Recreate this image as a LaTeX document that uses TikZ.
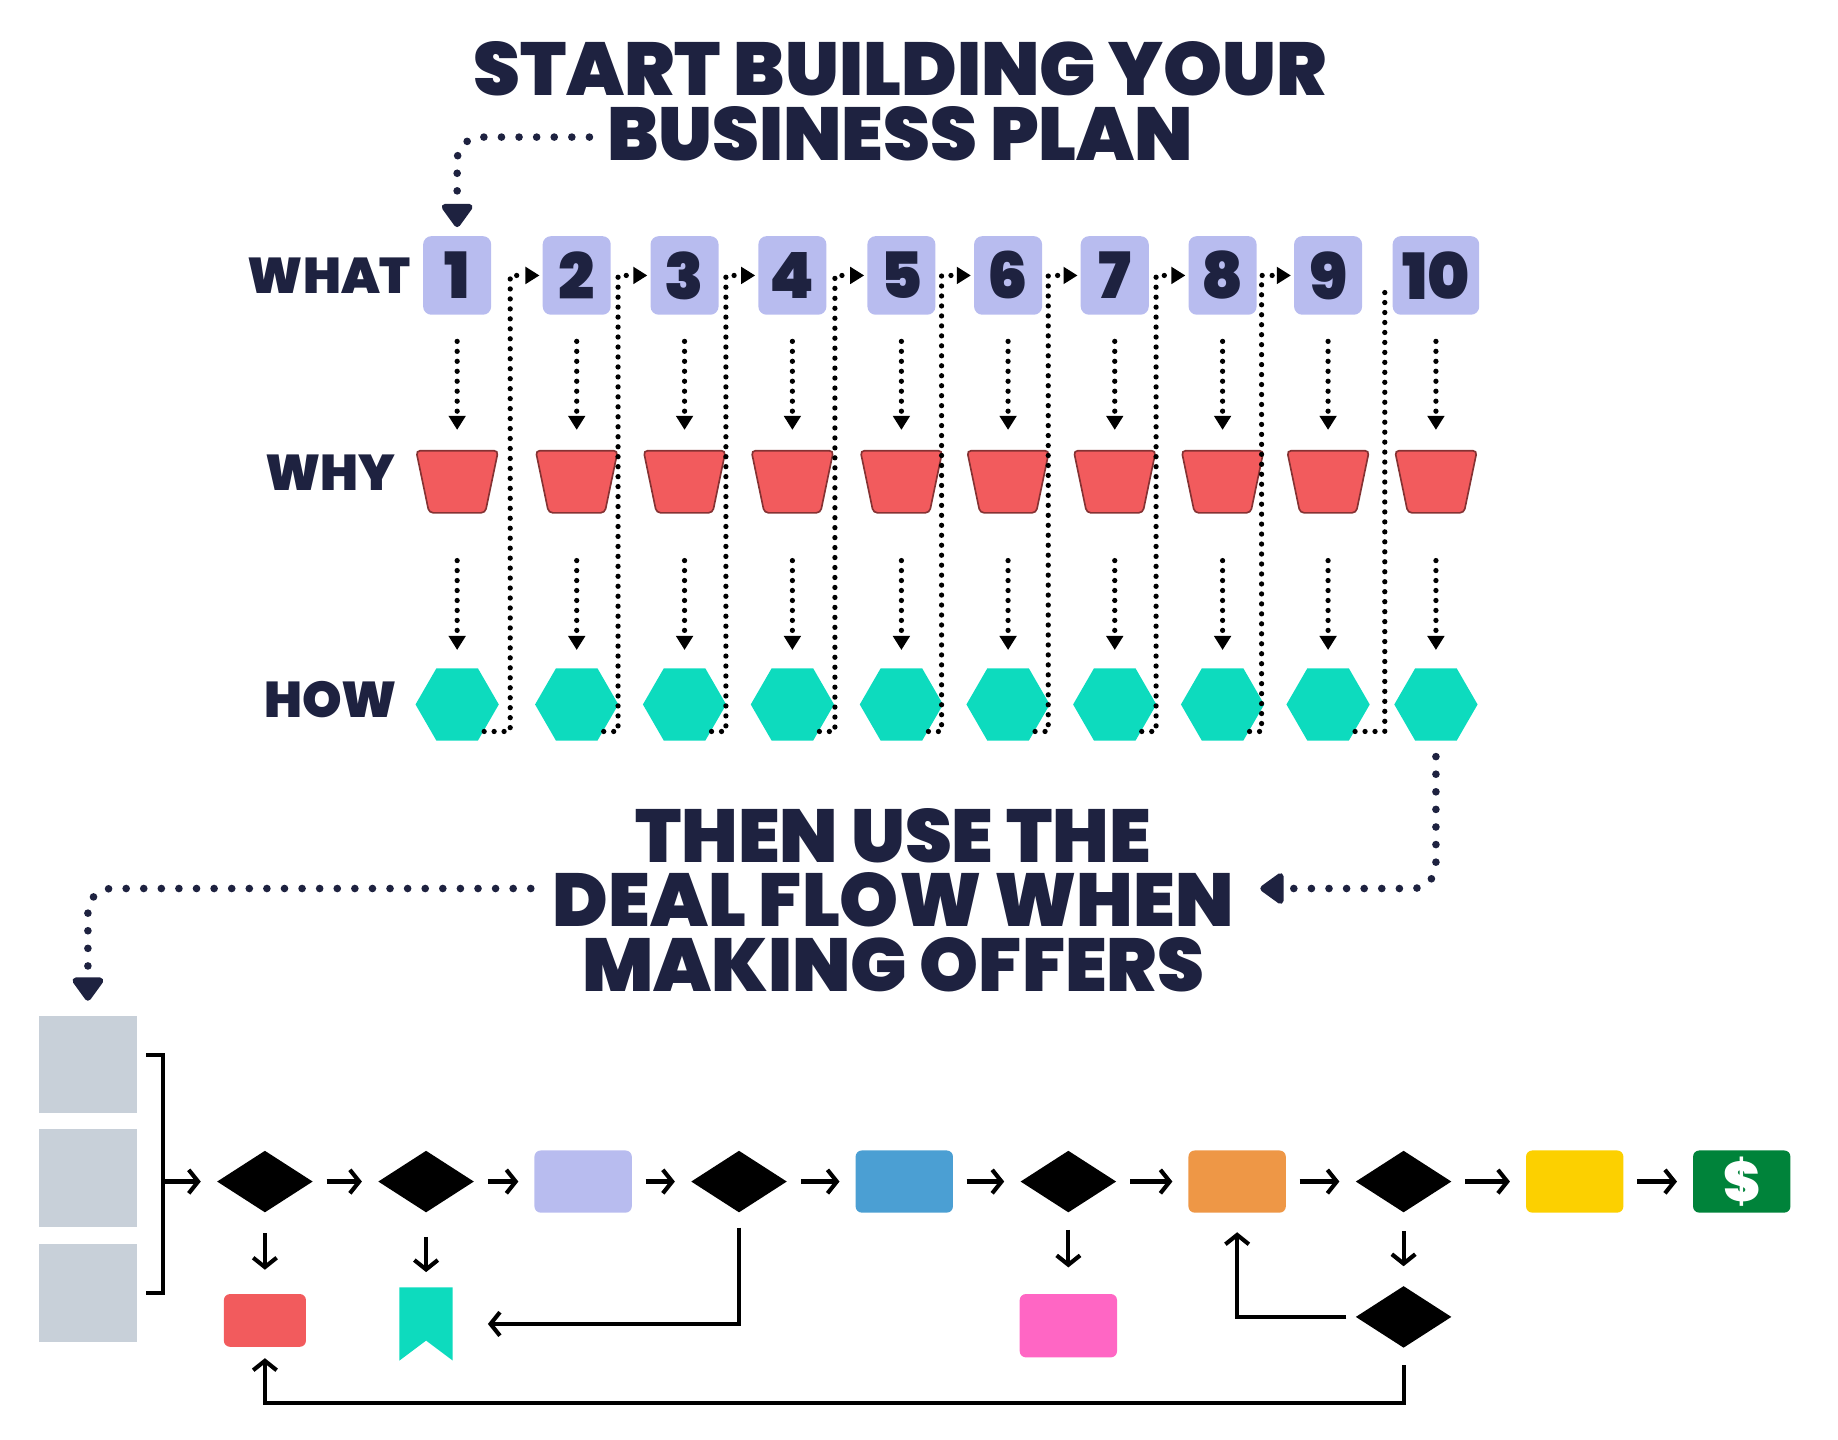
\documentclass[tikz,border=0pt]{standalone}
\usepackage{fontspec}
\newfontfamily\headfont{Poppins Black}
\usepackage{xcolor}
\usepackage{tikz}
\usetikzlibrary{arrows.meta, positioning, shapes.geometric, calc}
\definecolor{navy}{HTML}{1E2240}
\definecolor{lavender}{HTML}{B8BCEF}
\definecolor{coral}{HTML}{F25B5D}
\definecolor{mint}{HTML}{0DDBBE}
\definecolor{slate}{HTML}{C8D0D9}
\definecolor{skyblue}{HTML}{4B9FD3}
\definecolor{tangerine}{HTML}{EE9746}
\definecolor{sunny}{HTML}{FCD000}
\definecolor{money}{HTML}{00833A}
\definecolor{pinky}{HTML}{FF66C4}
\newcommand{\titlefont}{\headfont\fontsize{18.2}{15.65}\selectfont}
\newcommand{\labelfont}{\headfont\fontsize{12.2}{12.2}\selectfont}
\newcommand{\numfont}{\headfont\fontsize{15.5}{15.5}\selectfont}

\begin{document}
\begin{tikzpicture}[
  x=0.01cm, y=-0.01cm,
  headline/.style={font=\titlefont, text=navy, inner sep=0pt, align=center, anchor=north},
  rowlabel/.style={font=\labelfont, text=navy, inner sep=0pt},
  numbox/.style={fill=lavender, rounded corners=2pt, minimum width=0.58cm, minimum height=0.67cm,
                 inner sep=0.08cm, font=\numfont, text=navy},
  whybox/.style={trapezium, trapezium stretches=true, shape border rotate=180,
                 trapezium left angle=77, trapezium right angle=77, minimum width=0.70cm,
                 minimum height=0.53cm, fill=coral, draw=coral!55!black, line width=0.4pt, rounded corners=1pt},
  howbox/.style={regular polygon, regular polygon sides=6, minimum size=0.71cm, inner sep=0pt, fill=mint},
  dotline/.style={line width=0.045cm, line cap=round, dash pattern=on 0pt off 0.085cm},
  dotarrow/.style={dotline, -{Triangle[length=0.12cm, width=0.14cm]}},
  bigdot/.style={navy, line width=0.065cm, line cap=round, dash pattern=on 0pt off 0.15cm,
                 rounded corners=0.2cm, -{Triangle[length=0.22cm, width=0.3cm, round]}},
  graybox/.style={fill=slate, minimum width=0.84cm, minimum height=0.83cm, inner sep=0pt},
  flowbox/.style={rounded corners=1.5pt, minimum width=0.83cm, minimum height=0.53cm, inner sep=0pt},
  choice/.style={diamond, fill=black, minimum width=0.82cm, minimum height=0.53cm, inner sep=0pt},
  flowarrow/.style={line width=1pt, -{Straight Barb[length=0.08cm, width=0.2cm]},
                    shorten <=0.11cm, shorten >=0.13cm}
]
\useasboundingbox (0,0) rectangle (1568,1228);

% Titles
\node[headline] (t1) at (768,35) {START BUILDING YOUR\\BUSINESS PLAN};
\node[headline] (t2) at (762,689) {THEN USE THE\\DEAL FLOW WHEN\\MAKING OFFERS};
\coordinate (t1tail) at ($(t1.south)+(-2.65cm,0.21cm)$);

% Row labels
\node[rowlabel] (lwhat) at (281,235) {WHAT};
\node[rowlabel] (lwhy) at (282,403) {WHY};
\node[rowlabel] (lhow) at (282,597) {HOW};

% Columns: what -> why -> how
\foreach \i/\x in {1/390,2/492,3/584,4/676,5/769,6/860,7/951,8/1043,9/1133,10/1225} {
  \node[numbox] (box\i) at (\x,235) {\i};
  \node[whybox] (why\i) at (\x,411) {};
  \node[howbox] (how\i) at (\x,601) {};
  \draw[dotarrow, shorten <=0.22cm, shorten >=0.17cm] (box\i) -- (why\i);
  \draw[dotarrow, shorten <=0.40cm, shorten >=0.15cm] (why\i) -- (how\i);
}

% Column to column
\foreach \i [count=\j from 2] in {1,...,8}
  \draw[dotarrow, shorten >=0.02cm] (how\i.south east) -| ([xshift=-0.27cm]box\j.west) -- (box\j.west);
\draw[dotline] (how9.south east) -| ([xshift=-0.06cm, yshift=-0.1cm]box10.west);

% Deal flow
\node[graybox] (g1) at (75,908) {};
\node[graybox] (g2) at (75,1005) {};
\node[graybox] (g3) at (75,1103) {};
\coordinate (brk) at (139,1008);
\draw[line width=1pt] ([xshift=0.07cm, yshift=0.08cm]g1.east) -| (brk) |- ([xshift=0.07cm]g3.east);

\node[choice] (d1) at (226,1008) {};
\node[choice, right=0.54cm of d1] (d2) {};
\node[flowbox, fill=lavender, right=0.50cm of d2] (r1) {};
\node[choice, right=0.49cm of r1] (d3) {};
\node[flowbox, fill=skyblue, right=0.57cm of d3] (r2) {};
\node[choice, right=0.56cm of r2] (d4) {};
\node[flowbox, fill=tangerine, right=0.60cm of d4] (r3) {};
\node[choice, right=0.58cm of r3] (d5) {};
\node[flowbox, fill=sunny, right=0.62cm of d5] (r4) {};
\node[flowbox, fill=money, right=0.58cm of r4, text=white, font=\headfont\fontsize{13.5}{13.5}\selectfont] (cash) {\$};

\node[flowbox, fill=coral, minimum width=0.70cm, minimum height=0.45cm, below=0.68cm of d1] (r5) {};
\node[inner sep=0pt, minimum width=0.44cm, minimum height=0.61cm, below=0.63cm of d2] (bm) {};
\fill[mint] (bm.north west) -- (bm.north east) -- (bm.south east) -- ([yshift=0.17cm]bm.south) -- (bm.south west) -- cycle;
\node[flowbox, fill=pinky, minimum height=0.54cm, below=0.68cm of d4] (r6) {};
\node[choice, below=0.61cm of d5] (d6) {};
\coordinate (loop) at ([yshift=-0.46cm]d6.south);

% Flow arrows
\draw[flowarrow, shorten <=0pt] (brk) -- (d1);
\draw[flowarrow] (d1) -- (d2);
\draw[flowarrow] (d2) -- (r1);
\draw[flowarrow] (r1) -- (d3);
\draw[flowarrow] (d3) -- (r2);
\draw[flowarrow] (r2) -- (d4);
\draw[flowarrow] (d4) -- (r3);
\draw[flowarrow] (r3) -- (d5);
\draw[flowarrow] (d5) -- (r4);
\draw[flowarrow] (r4) -- (cash);
\draw[flowarrow, shorten <=0.17cm, shorten >=0.2cm] (d1) -- (r5);
\draw[flowarrow, shorten <=0.2cm, shorten >=0.13cm] (d2) -- (bm);
\draw[flowarrow, shorten <=0.14cm, shorten >=0.22cm] (d4) -- (r6);
\draw[flowarrow, shorten <=0.15cm, shorten >=0.16cm] (d5) -- (d6);
\draw[flowarrow, shorten <=0.12cm, shorten >=0.3cm] (d3.south) |- (bm.east);
\draw[flowarrow, shorten <=0.07cm, shorten >=0.16cm] (d6.west) -| (r3.south);
\draw[flowarrow, shorten <=0.14cm, shorten >=0.09cm] (d6.south) -- (loop) -| (r5.south);

% Title pointers
\draw[bigdot, shorten >=0.07cm] (t1tail) -| (box1.north);
\draw[bigdot, shorten <=0.13cm, shorten >=0.22cm] (how10.south) |- ([yshift=0.1cm]t2.east);
\draw[bigdot, shorten <=0.18cm, shorten >=0.12cm] ([yshift=0.1cm]t2.west) -| (g1.north);

\end{tikzpicture}
\end{document}
